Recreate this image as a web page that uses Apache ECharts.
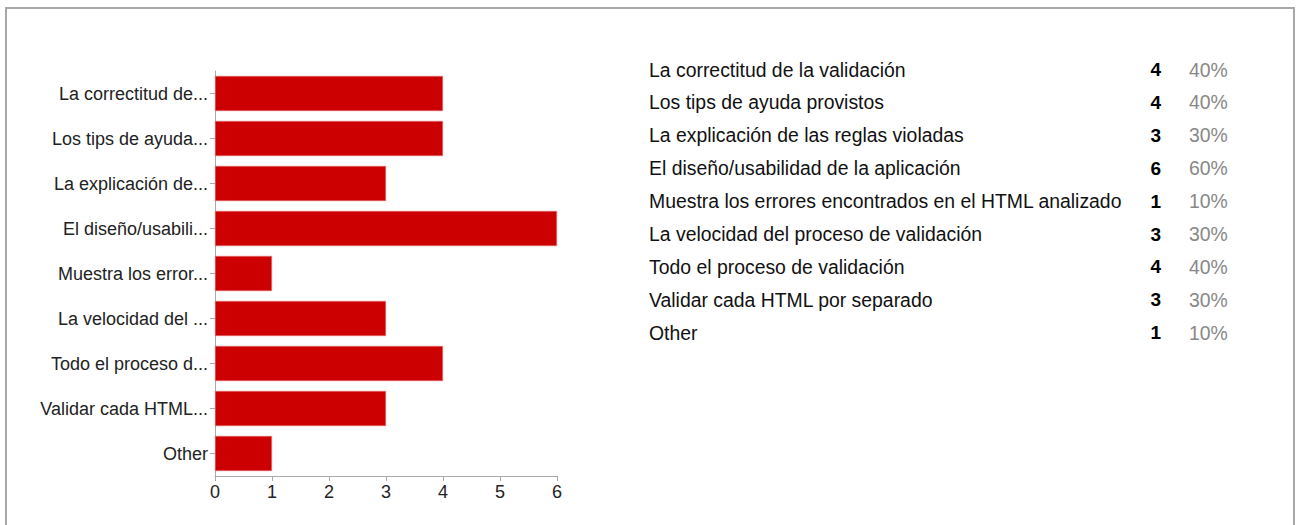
<!DOCTYPE html>
<html>
<head>
<meta charset="utf-8">
<script src="https://cdn.jsdelivr.net/npm/echarts@6/dist/echarts.min.js"></script>
<style>
  html, body { margin: 0; padding: 0; background: #fff; }
  #wrap { position: relative; width: 1300px; height: 525px; overflow: hidden; }
  #frame { position: absolute; left: 5px; top: 7px; width: 1290px; height: 560px; border: 2px solid #a8a8a8; box-sizing: border-box; }
  #chart { position: absolute; left: 0; top: 0; width: 1300px; height: 525px; }
</style>
</head>
<body>
<div id="wrap">
  <div id="frame"></div>
  <div id="chart"></div>
</div>
<script>
const categories = [
  "La correctitud de la validación",
  "Los tips de ayuda provistos",
  "La explicación de las reglas violadas",
  "El diseño/usabilidad de la aplicación",
  "Muestra los errores encontrados en el HTML analizado",
  "La velocidad del proceso de validación",
  "Todo el proceso de validación",
  "Validar cada HTML por separado",
  "Other"
];
const counts = [4, 4, 3, 6, 1, 3, 4, 3, 1];
const percents = ["40%", "40%", "30%", "60%", "10%", "30%", "40%", "30%", "10%"];
const xTicks = [0, 1, 2, 3, 4, 5, 6];

function shorten(s) {
  return s.length > 20 ? s.slice(0, 17) + "..." : s;
}

const FONT = "'Liberation Sans', Arial, sans-serif";

const table = [];
categories.forEach((c, i) => {
  const y = 69.5 + i * 32.9;
  table.push({ type: 'text', x: 649, y: y, style: { text: c, font: "19.4px " + FONT, fill: '#111', align: 'left', verticalAlign: 'middle' } });
  table.push({ type: 'text', x: 1161, y: y, style: { text: String(counts[i]), font: "bold 19px " + FONT, fill: '#000', align: 'right', verticalAlign: 'middle' } });
  table.push({ type: 'text', x: 1189, y: y, style: { text: percents[i], font: "19.4px " + FONT, fill: '#888', align: 'left', verticalAlign: 'middle' } });
});

const chart = echarts.init(document.getElementById('chart'), null, { renderer: 'svg' });
chart.setOption({
  animation: false,
  textStyle: { fontFamily: FONT },
  grid: { left: 215, top: 71, width: 342, height: 405, containLabel: false },
  xAxis: {
    type: 'value', min: 0, max: 6, interval: 1,
    splitLine: { show: false },
    axisLine: { show: true, lineStyle: { color: '#aaa', width: 1 } },
    axisTick: { show: true, length: 5, lineStyle: { color: '#aaa' } },
    axisLabel: { color: '#222', fontSize: 18, margin: 7, formatter: v => xTicks.includes(v) ? String(v) : '' }
  },
  yAxis: {
    type: 'category', inverse: true, data: categories,
    axisLine: { show: true, onZero: false, lineStyle: { color: '#aaa', width: 1 } },
    axisTick: { show: true, length: 5, alignWithLabel: true, lineStyle: { color: '#aaa' } },
    axisLabel: { color: '#222', fontSize: 18, margin: 7, formatter: v => shorten(v) }
  },
  series: [{
    type: 'bar', data: counts, barCategoryGap: '22%',
    itemStyle: { color: '#cc0000', borderColor: '#e87070', borderWidth: 0.6 }
  }],
  graphic: table
});
</script>
</body>
</html>
